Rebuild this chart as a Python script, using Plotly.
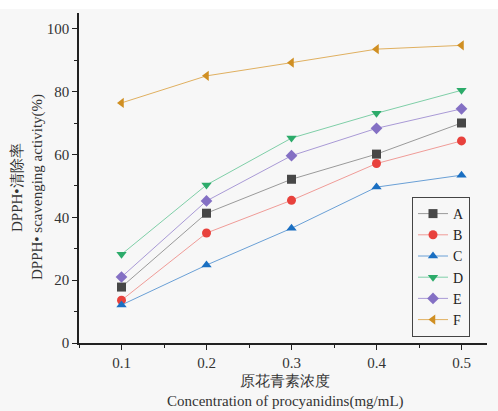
import plotly.graph_objects as go

x_vals = [0.1, 0.2, 0.3, 0.4, 0.5]
series_names = ["A", "B", "C", "D", "E", "F"]
A = [17.8, 41.3, 52.1, 60.1, 70.0]
B = [13.6, 35.0, 45.4, 57.1, 64.3]
C = [12.1, 24.8, 36.5, 49.6, 53.4]
D = [28.2, 50.3, 65.2, 73.1, 80.4]
E = [21.0, 45.2, 59.6, 68.3, 74.5]
F = [76.4, 85.0, 89.2, 93.5, 94.7]
series_values = [A, B, C, D, E, F]

x_tick_vals = [0.1, 0.2, 0.3, 0.4, 0.5]
x_tick_text = ["0.1", "0.2", "0.3", "0.4", "0.5"]
y_tick_vals = [0, 20, 40, 60, 80, 100]
y_tick_text = ["0", "20", "40", "60", "80", "100"]

marker_colors = ["#474747", "#e8413c", "#1a6fc2", "#2cab6a", "#8470c4", "#d08f22"]
line_colors = ["#9a9a9a", "#f09c98", "#6aa0d6", "#7fcfa8", "#a99ad6", "#e0b060"]
symbols = ["square", "circle", "triangle-up", "triangle-down", "diamond", "triangle-left"]

FONT = "Liberation Serif, Times New Roman, serif"

fig = go.Figure()
for name, vals, mc, lc, sym in zip(series_names, series_values, marker_colors, line_colors, symbols):
    fig.add_trace(go.Scatter(
        x=x_vals, y=vals, name=name, mode="lines+markers",
        line=dict(color=lc, width=1),
        marker=dict(symbol=sym, size=9, color=mc, line=dict(width=0)),
    ))

fig.update_layout(
    width=498, height=411,
    paper_bgcolor="#f7f7f7", plot_bgcolor="#f7f7f7",
    margin=dict(l=79, r=11, t=13, b=68),
    font=dict(family=FONT, size=14, color="#222"),
    showlegend=True,
    legend=dict(
        x=(412 - 79) / 408, y=(343 - 267) / 330, xanchor="left", yanchor="middle",
        bgcolor="rgba(0,0,0,0)", bordercolor="#444", borderwidth=1,
        font=dict(family=FONT, size=14, color="#222"),
        tracegroupgap=0, itemwidth=30,
    ),
    xaxis=dict(
        range=[0.05, 0.53], tickvals=x_tick_vals, ticktext=x_tick_text,
        showgrid=False, zeroline=False, showline=True, linecolor="#222", linewidth=1.5,
        ticks="outside", ticklen=5, tickwidth=1.2, tickcolor="#222",
        tickfont=dict(family=FONT, size=15, color="#333"),
        minor=dict(dtick=0.05, tick0=0.05, ticks="outside", ticklen=3, tickcolor="#222", tickwidth=1.2),
    ),
    yaxis=dict(
        range=[0, 105], tickvals=y_tick_vals, ticktext=y_tick_text,
        showgrid=False, zeroline=False, showline=True, linecolor="#222", linewidth=1.5,
        ticks="outside", ticklen=5, tickwidth=1.2, tickcolor="#222",
        tickfont=dict(family=FONT, size=15, color="#333"),
        minor=dict(dtick=10, tick0=0, ticks="outside", ticklen=3, tickcolor="#222", tickwidth=1.2),
    ),
    shapes=[dict(type="rect", xref="paper", yref="paper", x0=-0.3, x1=1.1,
                 y0=(343 - 9) / 330, y1=(343 + 5) / 330,
                 fillcolor="white", line=dict(width=0), layer="below")],
    annotations=[
        dict(text="DPPH•清除率", xref="paper", yref="paper", x=-62 / 408, y=(343 - 188) / 330,
             textangle=-90, showarrow=False, xanchor="center", yanchor="middle",
             font=dict(family=FONT, size=15, color="#333")),
        dict(text="DPPH• scavenging activity(%)", xref="paper", yref="paper", x=-42 / 408,
             y=(343 - 187) / 330,
             textangle=-90, showarrow=False, xanchor="center", yanchor="middle",
             font=dict(family=FONT, size=15, color="#333")),
        dict(text="原花青素浓度", xref="paper", yref="paper", x=(285 - 79) / 408, y=-38 / 330,
             showarrow=False, xanchor="center", yanchor="middle",
             font=dict(family=FONT, size=15, color="#333")),
        dict(text="Concentration of procyanidins(mg/mL)", xref="paper", yref="paper",
             x=(285 - 79) / 408, y=-58 / 330,
             showarrow=False, xanchor="center", yanchor="middle",
             font=dict(family=FONT, size=15, color="#333")),
    ],
)

fig.write_html("out.html", config={"displayModeBar": False},
               post_script="document.body.style.margin='0';document.body.style.overflow='hidden';")
